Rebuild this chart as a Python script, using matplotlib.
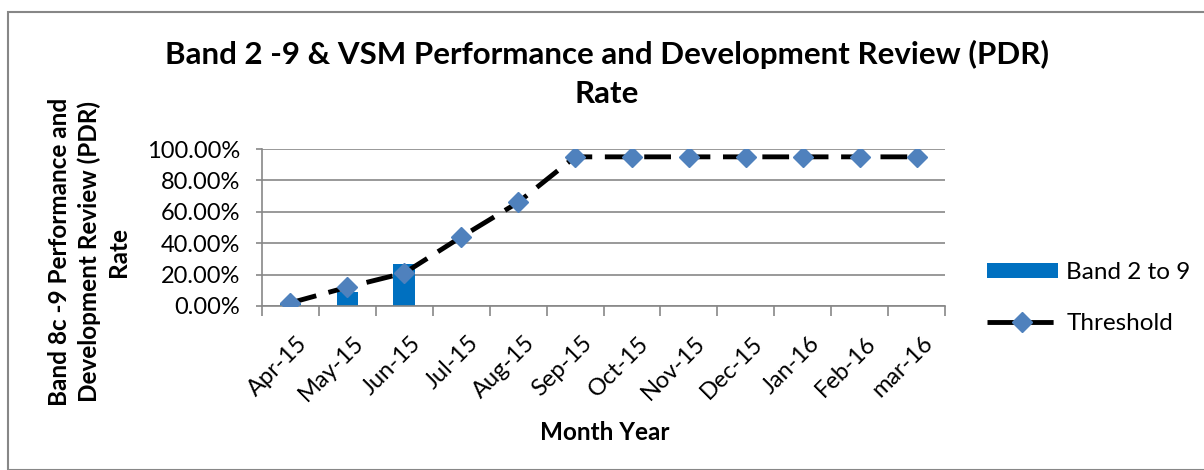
import matplotlib.pyplot as plt
from matplotlib.patches import Rectangle
from matplotlib.ticker import FuncFormatter, MultipleLocator
import matplotlib.transforms as mtransforms
import numpy as np

plt.rcParams['font.family'] = ['Lato', 'DejaVu Sans']

months = ['Apr-15', 'May-15', 'Jun-15', 'Jul-15', 'Aug-15', 'Sep-15',
          'Oct-15', 'Nov-15', 'Dec-15', 'Jan-16', 'Feb-16', 'mar-16']
band_2_9 = [0.01, 0.09, 0.27, None, None, None, None, None, None, None, None, None]
threshold = [0.02, 0.12, 0.21, 0.44, 0.66, 0.95, 0.95, 0.95, 0.95, 0.95, 0.95, 0.95]

fig = plt.figure(figsize=(12.04, 4.70), dpi=100)
ax = fig.add_axes([262/1204, 1-306/470, (945-262)/1204, (306-149)/470])

x = np.arange(len(months))
bar_x = [i for i, v in enumerate(band_2_9) if v is not None]
bar_v = [v for v in band_2_9 if v is not None]
bars = ax.bar(bar_x, bar_v, width=0.38, color='#0070C0', label='Band 2 to 9', zorder=2)
line, = ax.plot(x, threshold, color='black', lw=3.5, ls=(0, (5.5, 2.6)),
                marker='D', markersize=10, markerfacecolor='#4F81BD',
                markeredgecolor='#4F81BD', label='Threshold', zorder=3)

ax.set_xlim(-0.5, len(months) - 0.5)
ax.set_ylim(0, 1.0)
ax.yaxis.set_major_locator(MultipleLocator(0.2))
ax.yaxis.set_major_formatter(FuncFormatter(lambda v, p: f'{v*100:.2f}%'))
ax.grid(axis='y', color='#878787', lw=1.2, zorder=0)
ax.set_axisbelow(True)

ax.set_xticks(x)
ax.set_xticklabels(months, rotation=45, ha='right', rotation_mode='anchor', fontsize=17)
ax.tick_params(axis='x', length=0, pad=19)
offset = mtransforms.ScaledTranslation(6/100, 0, fig.dpi_scale_trans)
for lbl in ax.get_xticklabels():
    lbl.set_transform(lbl.get_transform() + offset)
ax.set_xticks(np.arange(-0.5, len(months), 1), minor=True)
ax.tick_params(axis='x', which='minor', length=7, color='#878787', width=1.2)
ax.tick_params(axis='y', labelsize=17, length=4, color='#878787', width=1.2, pad=12)

for s in ['top', 'right']:
    ax.spines[s].set_visible(False)
for s in ['left', 'bottom']:
    ax.spines[s].set_color('#878787')
    ax.spines[s].set_linewidth(1.2)

fig.text(607/1204, 1-54/470, 'Band 2 -9 & VSM Performance and Development Review (PDR)',
         ha='center', va='center', fontsize=22.5, fontweight='bold')
fig.text(607/1204, 1-94/470, 'Rate', ha='center', va='center', fontsize=22.5, fontweight='bold')
fig.text(605/1204, 1-432/470, 'Month Year', ha='center', va='center', fontsize=17.5, fontweight='bold')
fig.text(89/1204, 1-252/470, 'Band 8c -9 Performance and\nDevelopment Review (PDR)\nRate',
         ha='center', va='center', rotation=90, fontsize=17.5, fontweight='bold', linespacing=1.3)

ax.legend([bars, line], ['Band 2 to 9', 'Threshold'], loc='center left',
          bbox_to_anchor=(975/1204, 1-298/470), bbox_transform=fig.transFigure,
          frameon=False, fontsize=17.5, handlelength=2.9, handleheight=0.55,
          handletextpad=0.35, labelspacing=1.2, borderpad=0.0)

fig.patches.append(Rectangle((8/1204, 0), 1.0, 1-12/470, transform=fig.transFigure,
                             fill=False, edgecolor='#878787', lw=1.5))

fig.savefig('out.png', dpi=100)
